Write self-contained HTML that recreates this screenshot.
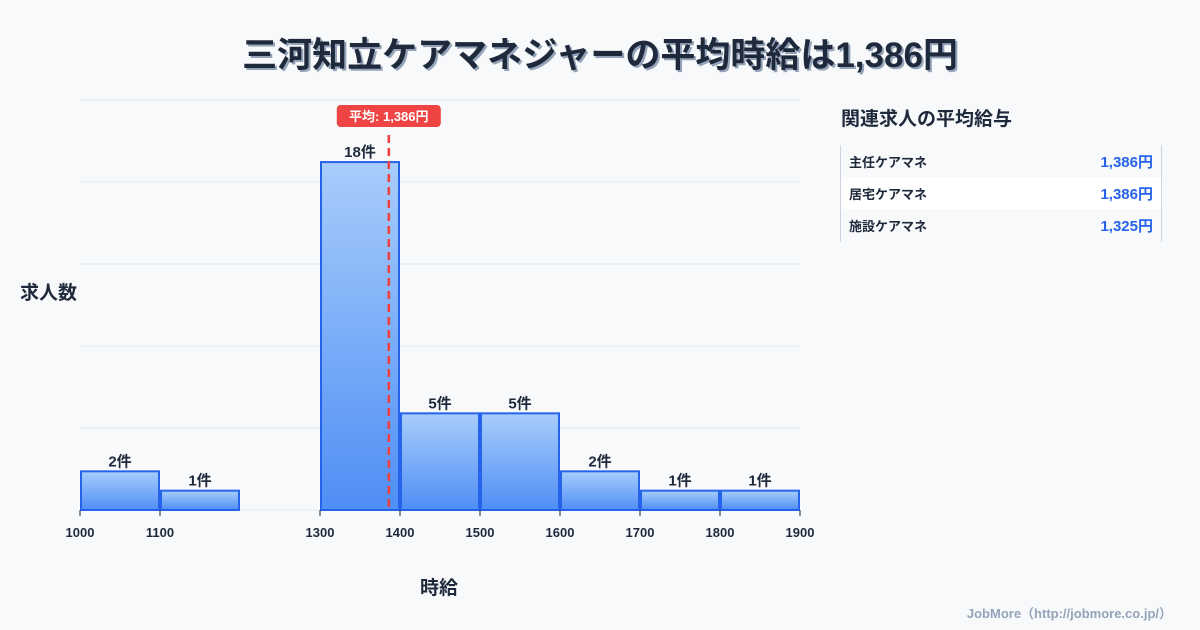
<!DOCTYPE html>
<html><head><meta charset="utf-8"><style>
body{margin:0;width:1200px;height:630px;background:#f8f9fb;font-family:"Liberation Sans","Noto Sans CJK JP",sans-serif;overflow:hidden;position:relative;color:#1e293b}
.t{position:absolute;font-weight:bold}
</style></head><body>
<div class="t" style="left:0;width:1200px;top:27px;text-align:center;font-size:35px;text-shadow:2px 2px 0 #94a3b8;color:#1e293b">三河知立ケアマネジャーの平均時給は1,386円</div>
<div class="t" style="left:20px;top:278px;font-size:19px">求人数</div>
<div class="t" style="left:420px;top:573px;font-size:19px">時給</div>
<svg id="chart" width="1200" height="630" style="position:absolute;left:0;top:0">
<defs><linearGradient id="g" x1="0" y1="0" x2="0" y2="1"><stop offset="0" stop-color="#a8cdfb"/><stop offset="1" stop-color="#4f8ef5"/></linearGradient></defs>
</svg>
<div class="t" style="left:841px;top:104px;font-size:19px">関連求人の平均給与</div>
<div style="position:absolute;left:840px;top:145px;width:320px;height:97px;border-left:1px solid #cbd5e1;border-right:1px solid #cbd5e1">
<div style="height:32px;display:flex;justify-content:space-between;align-items:center;padding:0 8px;font-size:13px;font-weight:bold"><span>主任ケアマネ</span><span style="color:#2563eb;font-size:15px">1,386円</span></div>
<div style="height:32px;background:#fff;display:flex;justify-content:space-between;align-items:center;padding:0 8px;font-size:13px;font-weight:bold"><span>居宅ケアマネ</span><span style="color:#2563eb;font-size:15px">1,386円</span></div>
<div style="height:32px;display:flex;justify-content:space-between;align-items:center;padding:0 8px;font-size:13px;font-weight:bold"><span>施設ケアマネ</span><span style="color:#2563eb;font-size:15px">1,325円</span></div>
</div>
<div class="t" style="right:28px;top:603px;font-size:13px;color:#94a3b8">JobMore（http://jobmore.co.jp/）</div>
<script>
const binStarts=[1000,1100,1300,1400,1500,1600,1700,1800];
const counts=[2,1,18,5,5,2,1,1];
const xTicks=[1000,1100,1300,1400,1500,1600,1700,1800,1900];
const meanValue=1386;
const meanLabel="平均: 1,386円";
const svg=document.getElementById('chart');
const NS='http://www.w3.org/2000/svg';
const x=v=>80+(v-1000)*0.8;
const y=c=>510-c*19.33;
function mk(t,a){const e=document.createElementNS(NS,t);for(const k in a)e.setAttribute(k,a[k]);svg.appendChild(e);return e;}
for(let i=0;i<6;i++){const g=mk('line',{x1:80,x2:800,y1:100+i*82,y2:100+i*82,stroke:'#e2e8f0','stroke-width':1});

}
binStarts.forEach((b,i)=>{
const r=mk('rect',{x:x(b)+1,y:y(counts[i]),width:78,height:510-y(counts[i]),fill:'url(#g)',stroke:'#2563eb','stroke-width':2});


const t=mk('text',{x:x(b)+40,y:y(counts[i])-5,'text-anchor':'middle','font-size':15,'font-weight':'bold',fill:'#1e293b'});
t.textContent=counts[i]+'件';


});
xTicks.forEach(v=>{
const l=mk('line',{x1:x(v),x2:x(v),y1:510,y2:516,stroke:'#1e293b'});


const t=mk('text',{x:x(v),y:537,'text-anchor':'middle','font-size':13,'font-weight':'bold',fill:'#1e293b'});
t.textContent=v;


});
const ml=mk('line',{x1:x(meanValue),x2:x(meanValue),y1:135,y2:510,stroke:'#f03e3e','stroke-width':2.5,'stroke-dasharray':'8,5'});


const mb=mk('rect',{x:x(meanValue)-52,y:105,width:104,height:22,rx:4,fill:'#ef4444'});


const mt=mk('text',{x:x(meanValue),y:121,'text-anchor':'middle','font-size':13,'font-weight':'bold',fill:'#fff'});
mt.textContent=meanLabel;


</script>
</body></html>
